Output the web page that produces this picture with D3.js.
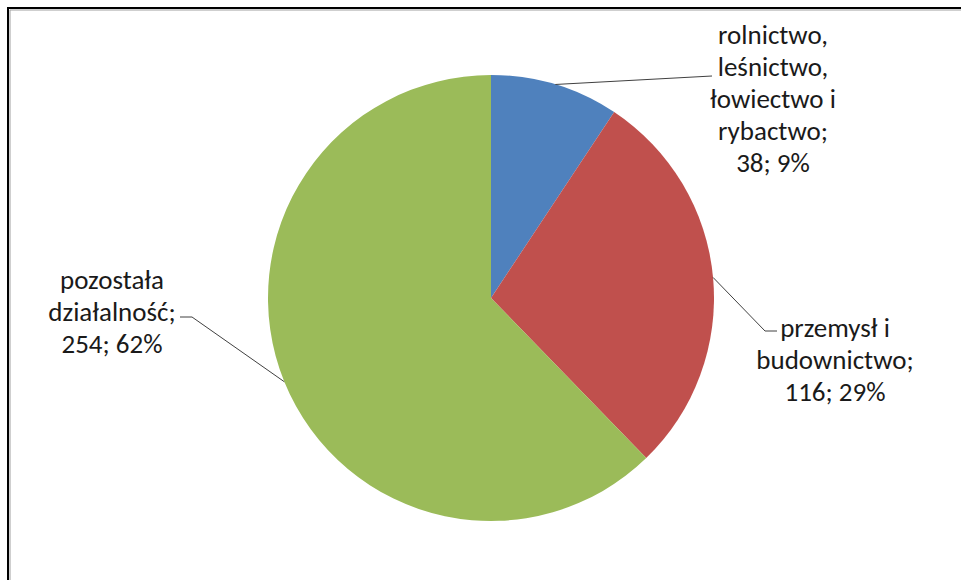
<!DOCTYPE html>
<html>
<head>
<meta charset="utf-8">
<script src="https://cdn.jsdelivr.net/npm/d3@7"></script>
<style>
  body { margin: 0; background: #fff; }
  svg { display: block; }
</style>
</head>
<body>
<div id="chart"></div>
<script>
// data
const categories = ['rolnictwo, leśnictwo, łowiectwo i rybactwo', 'przemysł i budownictwo', 'pozostała działalność'];
const values = [38, 116, 254];
const percents = ['9%', '29%', '62%'];
const labelLines = [
  ['rolnictwo,', 'leśnictwo,', 'łowiectwo i', 'rybactwo;', '38; 9%'],
  ['przemysł i', 'budownictwo;', '116; 29%'],
  ['pozostała', 'działalność;', '254; 62%']
];
const colors = ['#4F81BD', '#C0504D', '#9BBB59'];

const width = 961, height = 580;
const cx = 491, cy = 298, radius = 223;
const lineH = 32;

const svg = d3.select('#chart').append('svg')
  .attr('width', width)
  .attr('height', height);

// chart frame (black outer, gray inner)
svg.append('path')
  .attr('d', 'M8,' + height + 'V8H' + width)
  .attr('fill', 'none').attr('stroke', '#000').attr('stroke-width', 2);
svg.append('path')
  .attr('d', 'M10,' + height + 'V10H' + width)
  .attr('fill', 'none').attr('stroke', '#a0a0a0').attr('stroke-width', 1);

const pie = d3.pie().sort(null).value(function(d) { return d; });
const arcs = pie(values);
const arc = d3.arc().innerRadius(0).outerRadius(radius);
const edge = d3.arc().innerRadius(radius).outerRadius(radius);

const g = svg.append('g').attr('transform', 'translate(' + cx + ',' + cy + ')');

g.selectAll('path.slice')
  .data(arcs)
  .enter().append('path')
  .attr('class', 'slice')
  .attr('fill', function(d, i) { return colors[i]; })
  .attr('d', arc);

// label placement: centre x of text block, top line baseline, leader end point
const labelPos = [
  { x: 282, y: -254, end: [[221, -222]] },
  { x: 344, y: 39, end: [[274, 33], [286, 33]] },
  { x: -379, y: -9, end: [[-299, 19], [-311, 19]] }
];

arcs.forEach(function(d, i) {
  const p = edge.centroid(d);
  const pts = [p].concat(labelPos[i].end);
  g.append('path')
    .attr('d', d3.line()(pts))
    .attr('fill', 'none')
    .attr('stroke', '#404040')
    .attr('stroke-width', 1);

  const t = g.append('text')
    .attr('text-anchor', 'middle')
    .attr('font-family', 'Carlito, Calibri, "Open Sans", sans-serif')
    .attr('font-size', 27)
    .attr('fill', '#1a1a1a');
  labelLines[i].forEach(function(s, k) {
    t.append('tspan')
      .attr('x', labelPos[i].x)
      .attr('y', labelPos[i].y + k * lineH)
      .text(s);
  });
});
</script>
</body>
</html>
